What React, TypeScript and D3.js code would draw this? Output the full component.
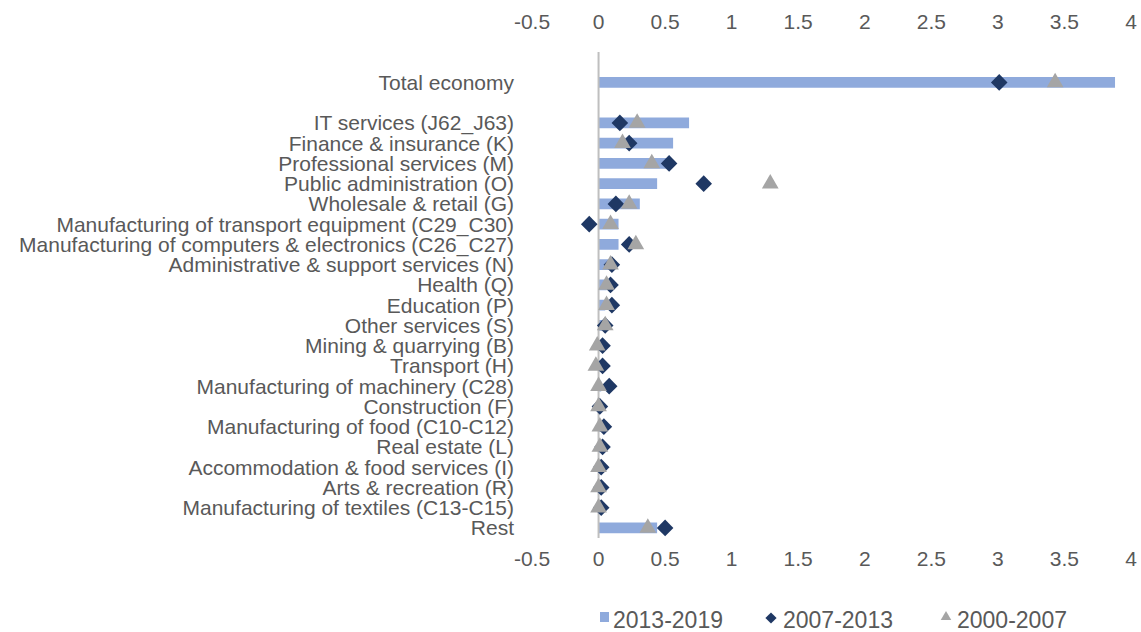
import React from "react";
import * as d3 from "d3";

const categories = [
  "",
  "Total economy",
  " ",
  "IT services (J62_J63)",
  "Finance & insurance (K)",
  "Professional services (M)",
  "Public administration (O)",
  "Wholesale & retail (G)",
  "Manufacturing of transport equipment (C29_C30)",
  "Manufacturing of computers & electronics (C26_C27)",
  "Administrative & support services (N)",
  "Health (Q)",
  "Education (P)",
  "Other services (S)",
  "Mining & quarrying (B)",
  "Transport (H)",
  "Manufacturing of machinery (C28)",
  "Construction (F)",
  "Manufacturing of food (C10-C12)",
  "Real estate (L)",
  "Accommodation & food services (I)",
  "Arts & recreation (R)",
  "Manufacturing of textiles (C13-C15)",
  "Rest",
];

const s2013_2019: (number | null)[] = [
  null, 3.88, null, 0.68, 0.56, 0.52, 0.44, 0.31, 0.15, 0.15, 0.08, 0.06, 0.05,
  0.03, 0.03, 0.04, 0.02, 0.01, 0.02, 0.01, 0.01, 0.01, 0.01, 0.44,
];
const s2007_2013: (number | null)[] = [
  null, 3.01, null, 0.16, 0.23, 0.53, 0.79, 0.13, -0.07, 0.23, 0.1, 0.09, 0.1,
  0.05, 0.03, 0.03, 0.08, 0.01, 0.04, 0.03, 0.02, 0.02, 0.02, 0.5,
];
const s2000_2007: (number | null)[] = [
  null, 3.43, null, 0.29, 0.18, 0.4, 1.29, 0.23, 0.09, 0.28, 0.09, 0.06, 0.06,
  0.05, -0.01, -0.02, 0.0, 0.0, 0.01, 0.01, 0.0, 0.0, 0.0, 0.37,
];
const xTicks = [-0.5, 0, 0.5, 1, 1.5, 2, 2.5, 3, 3.5, 4];
const seriesNames = ["2013-2019", "2007-2013", "2000-2007"];

const BAR = "#8FAADC";
const DIA = "#1F3864";
const TRI = "#A5A5A5";
const TEXT = "#595959";
const FONT = "'Liberation Sans', Arial, sans-serif";

export default function App() {
  const W = 1141;
  const H = 632;
  const x = d3.scaleLinear().domain([-0.5, 4]).range([532, 1131]);
  const y = d3
    .scaleBand<number>()
    .domain(d3.range(categories.length))
    .range([52, 538])
    .paddingInner(0.47)
    .paddingOuter(0.235);
  const bw = y.bandwidth();
  const cy = (i: number) => (y(i) as number) + bw / 2;
  const diamond = d3.symbol().type(d3.symbolDiamond2).size(175)();
  const tri = d3.symbol().type(d3.symbolTriangle2).size(200)();
  const fmt = (v: number) => String(v);

  return (
    <div
      style={{
        position: "fixed",
        left: 0,
        top: 0,
        width: W,
        height: H,
        overflow: "hidden",
      }}
    >
      <svg width={W} height={H} style={{ display: "block" }} fontFamily={FONT}>
        <rect width={W} height={H} fill="#fff" />
        {/* top axis labels */}
        {xTicks.map((t) => (
          <text key={"tt" + t} x={x(t)} y={29} textAnchor="middle" fontSize={21} fill={TEXT}>
            {fmt(t)}
          </text>
        ))}
        {xTicks.map((t) => (
          <text key={"bt" + t} x={x(t)} y={566} textAnchor="middle" fontSize={21} fill={TEXT}>
            {fmt(t)}
          </text>
        ))}
        {/* category labels */}
        {categories.map((c, i) => (
          <text key={"c" + i} x={514} y={cy(i)} dy="0.36em" textAnchor="end" fontSize={21} fill={TEXT}>
            {c.trim()}
          </text>
        ))}
        {/* bars */}
        {s2013_2019.map((v, i) =>
          v == null ? null : (
            <rect
              key={"b" + i}
              x={Math.min(x(0), x(v))}
              y={y(i)}
              width={Math.abs(x(v) - x(0))}
              height={bw}
              fill={BAR}
            />
          )
        )}
        {/* zero line */}
        <line x1={x(0)} x2={x(0)} y1={52} y2={538} stroke="#BFBFBF" strokeWidth={2} />
        {/* diamonds */}
        {s2007_2013.map((v, i) =>
          v == null ? null : (
            <path key={"d" + i} d={diamond as string} transform={`translate(${x(v)},${cy(i)})`} fill={DIA} />
          )
        )}
        {/* triangles */}
        {s2000_2007.map((v, i) =>
          v == null ? null : (
            <path key={"t" + i} d={tri as string} transform={`translate(${x(v)},${cy(i)})`} fill={TRI} />
          )
        )}
        {/* legend */}
        <g fontSize={23} fill={TEXT}>
          <rect x={600} y={612} width={9} height={10} fill={BAR} />
          <text x={613} y={628}>{seriesNames[0]}</text>
          <path d={d3.symbol().type(d3.symbolDiamond2).size(80)() as string} transform="translate(771,618)" fill={DIA} />
          <text x={783} y={628}>{seriesNames[1]}</text>
          <path d={d3.symbol().type(d3.symbolTriangle2).size(80)() as string} transform="translate(946,617)" fill={TRI} />
          <text x={957} y={628}>{seriesNames[2]}</text>
        </g>
      </svg>
    </div>
  );
}
